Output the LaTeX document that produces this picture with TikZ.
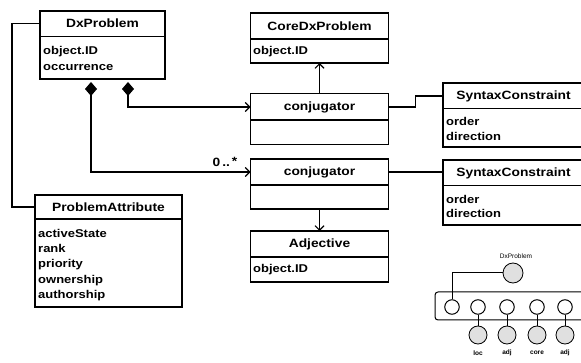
\documentclass[tikz,border=0pt]{standalone}
\usepackage{fontspec}
\setmainfont{Liberation Sans}
\newfontfamily\umlfont[FakeStretch=1.15]{Liberation Sans}
\usetikzlibrary{arrows.meta}
\tikzset{
  umlbox/.style={draw, line width=1.1pt, inner sep=0pt, outer sep=0pt},
  ttl/.style={font=\umlfont\fontsize{12}{13}\selectfont\bfseries, inner sep=0pt},
  attr/.style={font=\umlfont\fontsize{11.3}{13}\selectfont\bfseries, inner sep=0pt, anchor=west},
  conn/.style={line width=1.1pt},
  openarr/.style={-{Straight Barb[length=4.5pt,width=9pt,line width=1.1pt]}},
  diaarr/.style={{Diamond[length=14pt,width=12pt,fill=black]}-{Straight Barb[length=4.5pt,width=9pt,line width=1.1pt]}},
  port/.style={draw, circle, line width=1pt, inner sep=0pt, minimum size=14.5pt},
  ball/.style={draw, circle, line width=0.8pt, fill=black!12, inner sep=0pt, minimum size=18pt},
  tinylbl/.style={font=\fontsize{6.5}{7}\selectfont\bfseries, inner sep=0pt}
}
\begin{document}
\begin{tikzpicture}[x=1pt,y=-1pt]
\useasboundingbox (0,0) rectangle (581,363);

% DxProblem
\node[umlbox, minimum width=125pt, minimum height=68pt] (dx) at (102.5,45) {};
\draw[conn] (dx.west |- 0,36.5) -- (dx.east |- 0,36.5);
\node[ttl] (dxT) at (102.5,23.5) {DxProblem};
\node[attr] (dxA) at (43,52) {object.ID};
\node[attr] (dxB) at (43,68) {occurrence};

% CoreDxProblem
\node[umlbox, minimum width=138pt, minimum height=50pt] (core) at (319.5,38) {};
\draw[conn] (core.west |- 0,39) -- (core.east |- 0,39);
\node[ttl] (coreT) at (319.5,26) {CoreDxProblem};
\node[attr] (coreA) at (253,52) {object.ID};

% conjugator 1
\node[umlbox, minimum width=138pt, minimum height=51pt] (c1) at (319.5,119) {};
\draw[conn] (c1.west |- 0,120) -- (c1.east |- 0,120);
\node[ttl] (c1T) at (319.5,107) {conjugator};

% conjugator 2
\node[umlbox, minimum width=138pt, minimum height=50pt] (c2) at (319.5,184) {};
\draw[conn] (c2.west |- 0,185) -- (c2.east |- 0,185);
\node[ttl] (c2T) at (319.5,172) {conjugator};

% Adjective
\node[umlbox, minimum width=138pt, minimum height=51pt] (adj) at (319.5,256.5) {};
\draw[conn] (adj.west |- 0,257) -- (adj.east |- 0,257);
\node[ttl] (adjT) at (319.5,244) {Adjective};
\node[attr] (adjA) at (253,270) {object.ID};

% SyntaxConstraint 1
\node[umlbox, minimum width=141pt, minimum height=64pt] (s1) at (513.5,115) {};
\draw[conn] (s1.west |- 0,108.5) -- (s1.east |- 0,108.5);
\node[ttl] (s1T) at (513.5,96) {SyntaxConstraint};
\node[attr] (s1A) at (446,121) {order};
\node[attr] (s1B) at (446,136) {direction};

% SyntaxConstraint 2
\node[umlbox, minimum width=141pt, minimum height=65pt] (s2) at (513.5,192.5) {};
\draw[conn] (s2.west |- 0,185.5) -- (s2.east |- 0,185.5);
\node[ttl] (s2T) at (513.5,173) {SyntaxConstraint};
\node[attr] (s2A) at (446,199) {order};
\node[attr] (s2B) at (446,213.5) {direction};

% ProblemAttribute
\node[umlbox, minimum width=147pt, minimum height=112pt] (pa) at (108.5,251) {};
\draw[conn] (pa.west |- 0,219) -- (pa.east |- 0,219);
\node[ttl] (paT) at (108.5,207) {ProblemAttribute};
\node[attr] (paA) at (38,233) {activeState};
\node[attr] (paB) at (38,248.75) {rank};
\node[attr] (paC) at (38,264.5) {priority};
\node[attr] (paD) at (38,280.25) {ownership};
\node[attr] (paE) at (38,296) {authorship};

% connectors
\draw[conn] (dxT -| dx.west) -- ++(-28,0) |- (paT -| pa.west);
\draw[conn, diaarr] ([yshift=-3pt]dx.south -| 91,0) |- (c2T -| c2.west);
\draw[conn, diaarr] ([yshift=-3pt]dx.south -| 128,0) |- (c1T -| c1.west);
\draw[conn, openarr] (c1.north) -- (core.south);
\draw[conn, openarr] (c2.south) -- (adj.north);
\draw[conn] (c1T -| c1.east) -- ++(27,0) |- (s1T -| s1.west);
\draw[conn] (c2T -| c2.east) -- (c2T -| s2.west);
\node[ttl] (mult) at (225,162) {0\,..\,\raisebox{1pt}{*}};

% small component diagram
\node[tinylbl, font=\fontsize{6.5}{7}\selectfont] (bigL) at (516,256) {DxProblem};
\node[ball, minimum size=20pt] (big) at (513,273) {};
\draw[line width=1pt, rounded corners=3pt] (584,292) -- (435,292) -- (435,320) -- (584,320);
\node[port] (p1) at (452,307) {};
\node[port] (p2) at (478,307) {};
\node[port] (p3) at (507,307) {};
\node[port] (p4) at (537,307) {};
\node[port] (p5) at (565,307) {};
\draw[line width=1pt] (big.west) -| (p1.north);
\node[ball] (q2) at (478,335) {};
\node[ball] (q3) at (507,335) {};
\node[ball] (q4) at (537,335) {};
\node[ball] (q5) at (565,335) {};
\draw[line width=1pt] (p2.south) -- (q2.north);
\draw[line width=1pt] (p3.south) -- (q3.north);
\draw[line width=1pt] (p4.south) -- (q4.north);
\draw[line width=1pt] (p5.south) -- (q5.north);
\node[tinylbl] (l2) at (478,353) {loc};
\node[tinylbl] (l3) at (507,353) {adj};
\node[tinylbl] (l4) at (537,353) {core};
\node[tinylbl] (l5) at (565,353) {adj};
\end{tikzpicture}
\end{document}
